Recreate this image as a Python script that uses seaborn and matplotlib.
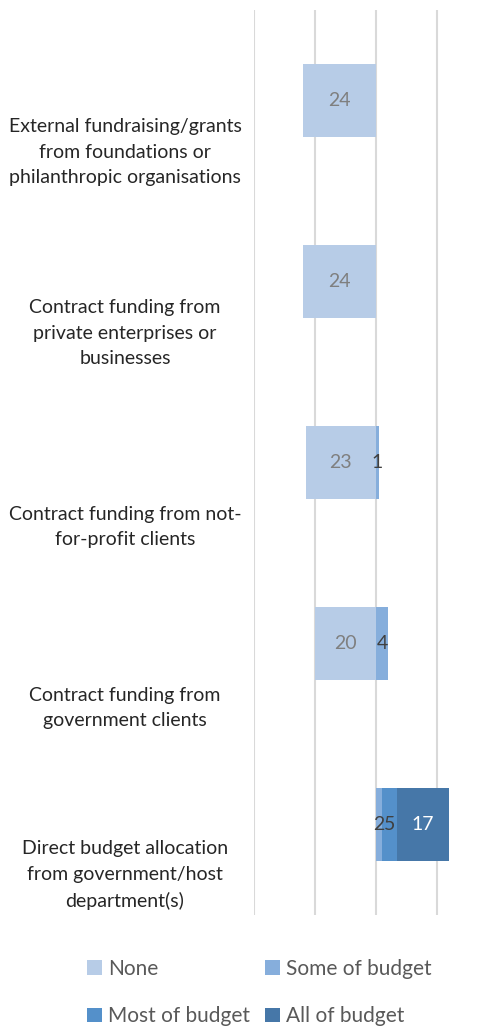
import numpy as np
import pandas as pd
import matplotlib
matplotlib.use("Agg")
import matplotlib.pyplot as plt
import matplotlib.transforms as mtransforms
from matplotlib.patches import Patch
import seaborn as sns

categories = [
    "External fundraising/grants\nfrom foundations or\nphilanthropic organisations",
    "Contract funding from\nprivate enterprises or\nbusinesses",
    "Contract funding from not-\nfor-profit clients",
    "Contract funding from\ngovernment clients",
    "Direct budget allocation\nfrom government/host\ndepartment(s)",
]
none_vals = [24, 24, 23, 20, 0]
some_vals = [0, 0, 1, 4, 2]
most_vals = [0, 0, 0, 0, 5]
all_vals = [0, 0, 0, 0, 17]
series_names = ["None", "Some of budget", "Most of budget", "All of budget"]

colors = {
    "None": "#B7CCE7",
    "Some of budget": "#86AEDC",
    "Most of budget": "#5490CA",
    "All of budget": "#4677A8",
}

sns.set_theme(style="white")
plt.rcParams["font.family"] = ["Lato", "DejaVu Sans"]

df = pd.DataFrame({
    "cat": categories,
    "none": none_vals,
    "some": some_vals,
    "most": most_vals,
    "all": all_vals,
})
df["neg_none"] = -df["none"]
df["c1"] = df["some"]
df["c2"] = df["some"] + df["most"]
df["c3"] = df["some"] + df["most"] + df["all"]

fig = plt.figure(figsize=(4.93, 10.28), dpi=100)
ax = fig.add_axes([254 / 493, 1 - 915 / 1028, 239 / 493, 905 / 1028])

bw = 0.4
for col, name in [("neg_none", "None"), ("c3", "All of budget"),
                  ("c2", "Most of budget"), ("c1", "Some of budget")]:
    sns.barplot(data=df, x=col, y="cat", orient="h", color=colors[name],
                width=bw, linewidth=0, saturation=1, ax=ax, errorbar=None)

ax.set_xticks([-40, -20, 0, 20, 40])
ax.set_xlim(-40, 38.4)
ax.grid(axis="x", color="#D9D9D9", linewidth=1.5)
ax.grid(axis="y", visible=False)
ax.set_axisbelow(True)
for s in ax.spines.values():
    s.set_visible(False)
ax.set_xticklabels([])
ax.set_yticklabels([])
ax.tick_params(length=0)
ax.set_xlabel("")
ax.set_ylabel("")

# data labels
for i in range(len(categories)):
    if none_vals[i]:
        ax.text(-none_vals[i] / 2, i, str(none_vals[i]), ha="center", va="center",
                fontsize=14, color="#7F7F7F")
    start = 0
    for vals, col in [(some_vals, "#404040"), (most_vals, "#404040"), (all_vals, "white")]:
        v = vals[i]
        if v:
            ax.text(start + v / 2, i, str(v), ha="center", va="center",
                    fontsize=14, color=col)
        start += v

# category labels (bottom-aligned near band bottom, like Excel)
trans = mtransforms.blended_transform_factory(fig.transFigure, ax.transData)
for i, c in enumerate(categories):
    ax.text(125 / 493, i + 0.475, c, transform=trans, ha="center", va="bottom",
            fontsize=14, color="#262626", linespacing=1.63, clip_on=False)

handles = [Patch(facecolor=colors[n], edgecolor="none") for n in series_names]
order = [0, 2, 1, 3]
fig.legend([handles[k] for k in order], [series_names[k] for k in order],
           ncol=2, loc="upper left", bbox_to_anchor=(87 / 493, 1 - 959 / 1028),
           frameon=False, fontsize=15, labelcolor="#595959",
           handlelength=0.7, handleheight=0.7, handletextpad=0.3,
           columnspacing=0.75, labelspacing=1.3, borderpad=0, borderaxespad=0)

fig.savefig("out.png", dpi=100)
